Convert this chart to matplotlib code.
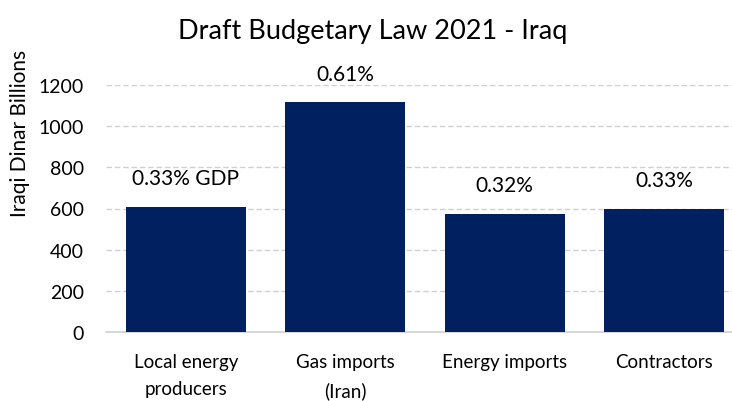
import matplotlib.pyplot as plt

# data
categories = ["Local energy\nproducers", "Gas imports\n(Iran)", "Energy imports", "Contractors"]
values = [609, 1116, 574, 598]
share_labels = ["0.33% GDP", "0.61%", "0.32%", "0.33%"]
yticks = [0, 200, 400, 600, 800, 1000, 1200]

plt.rcParams['font.family'] = ['Lato', 'DejaVu Sans']

fig = plt.figure(figsize=(7.32, 4.02), dpi=100)
ax = fig.add_axes([106 / 732, 69 / 402, 638 / 732, 247 / 402])

x = range(len(categories))
ax.bar(x, values, width=0.75, color="#002060", zorder=3)

for i, (v, lab) in enumerate(zip(values, share_labels)):
    ax.annotate(lab, (i, v), xytext=(0, 20.5), textcoords="offset points",
                ha="center", va="center", fontsize=15, color="black")

ax.set_xlim(-0.5, len(categories) - 0.5)
ax.set_ylim(0, 1200)
ax.set_yticks(yticks)
ax.set_xticks(list(x))
ax.set_xticklabels(categories, fontsize=13.5, linespacing=1.75)
ax.tick_params(axis="y", labelsize=14, length=0, pad=16)
ax.tick_params(axis="x", length=0, pad=15)
ax.grid(axis="y", color="#d0d0d0", linestyle=(0, (4, 2)), linewidth=1, zorder=0)
for side in ["top", "right", "left"]:
    ax.spines[side].set_visible(False)
ax.spines["bottom"].set_color("#d0d0d0")
ax.spines["bottom"].set_linewidth(1.2)

fig.text(373 / 732, 1 - 32 / 402, "Draft Budgetary Law 2021 - Iraq",
         ha="center", va="center", fontsize=19.5)
fig.text(20 / 732, 1 - 133 / 402, "Iraqi Dinar Billions", rotation=90,
         ha="center", va="center", fontsize=15)

fig.savefig("out.png", dpi=100)
